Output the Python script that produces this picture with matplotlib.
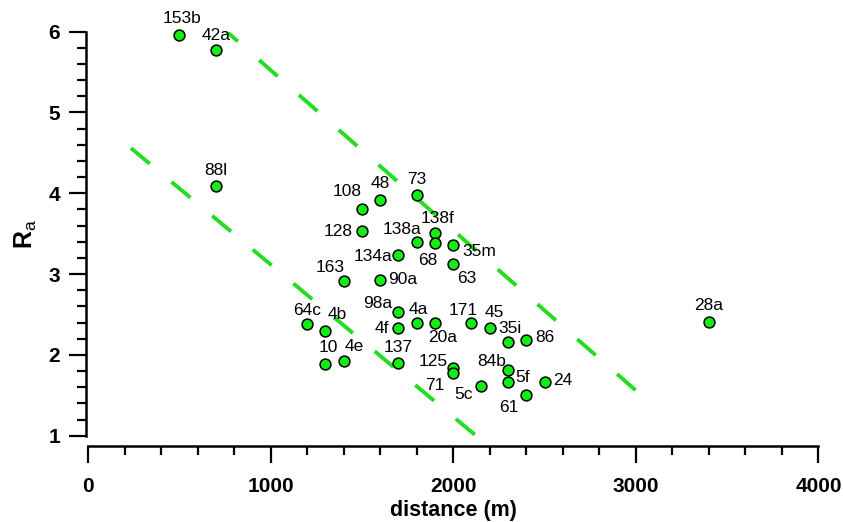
import matplotlib
matplotlib.use("Agg")
import matplotlib.pyplot as plt

plt.rcParams['font.family'] = ['Liberation Sans', 'DejaVu Sans']
plt.rcParams['mathtext.fontset'] = 'custom'
plt.rcParams['mathtext.rm'] = 'Liberation Sans'
plt.rcParams['mathtext.bf'] = 'Liberation Sans:bold'

# sites: name, distance (m), Ra
names = ['153b', '42a', '88l', '108', '48', '73', '128', '138a', '138f', '68',
         '35m', '134a', '63', '163', '90a', '98a', '4a', '20a', '4f', '171',
         '45', '35i', '86', '64c', '4b', '10', '4e', '137', '125', '71',
         '84b', '5f', '24', '5c', '61', '28a']
distance = [500, 700, 700, 1500, 1600, 1800, 1500, 1800, 1900, 1900,
            2000, 1700, 2000, 1400, 1600, 1700, 1800, 1900, 1700, 2100,
            2200, 2300, 2400, 1200, 1300, 1300, 1400, 1700, 2000, 2000,
            2300, 2300, 2500, 2150, 2400, 3400]
ra = [5.96, 5.77, 4.09, 3.81, 3.92, 3.98, 3.53, 3.40, 3.51, 3.38,
      3.36, 3.24, 3.12, 2.91, 2.93, 2.53, 2.39, 2.39, 2.33, 2.39,
      2.33, 2.16, 2.18, 2.38, 2.30, 1.89, 1.93, 1.90, 1.84, 1.78,
      1.81, 1.67, 1.66, 1.61, 1.50, 2.41]

# envelope lines (dashed)
upper_x = [720, 3000]
upper_y = [6.08, 1.56]
lower_x = [235, 2125]
lower_y = [4.56, 1.00]

# label offsets in pixels (dx, dy up)
label_off = {
    '153b': (3, 16), '42a': (0, 15), '88l': (0, 16), '108': (-15, 17),
    '48': (0, 16), '73': (0, 15), '128': (-24, 0), '138a': (-15, 12),
    '138f': (3, 14), '68': (-7, -17), '35m': (26, -6), '134a': (-25, -2),
    '63': (14, -14), '163': (-14, 14), '90a': (23, 0), '98a': (-21, 9),
    '4a': (2, 14), '20a': (8, -14), '4f': (-17, 0), '171': (-8, 13),
    '45': (5, 16), '35i': (2, 13), '86': (19, 3), '64c': (0, 14),
    '4b': (12, 16), '10': (3, 16), '4e': (11, 14), '137': (0, 15),
    '125': (-20, 6), '71': (-18, -13), '84b': (-16, 9), '5f': (15, 4),
    '24': (18, 2), '5c': (-17, -8), '61': (-17, -12), '28a': (0, 16),
}

fig = plt.figure(figsize=(8.43, 5.22), dpi=100)
ax = fig.add_axes([88 / 843, 1 - 435.7 / 522, (818.4 - 88) / 843, (435.7 - 31.7) / 522])

line_green = '#22dd22'
for lx, ly in [(upper_x, upper_y), (lower_x, lower_y)]:
    ax.plot(lx, ly, color=line_green, lw=2.8, dashes=(6.3, 7.3),
            dash_capstyle='butt', zorder=1)

ax.plot(distance, ra, 'o', ms=7.8, mfc='#11ee11', mec='black', mew=1.1,
        zorder=3, clip_on=False)

for n, x, y in zip(names, distance, ra):
    dx, dy = label_off[n]
    ax.annotate(n, (x, y), xytext=(dx * 0.72, dy * 0.72), textcoords='offset points',
                ha='center', va='center', fontsize=12.5, zorder=4)

ax.set_xlim(0, 4000)
ax.set_ylim(1, 6)
ax.set_xticks([0, 1000, 2000, 3000, 4000])
ax.set_xticks(range(0, 4001, 200), minor=True)
ax.set_yticks([1, 2, 3, 4, 5, 6])
ax.set_yticks([1 + 0.2 * i for i in range(26)], minor=True)

for s in ['top', 'right']:
    ax.spines[s].set_visible(False)
ax.spines['bottom'].set_position(('outward', 7.5))
ax.spines['left'].set_position(('outward', 1.5))
ax.spines['bottom'].set_bounds(0, 4000)
ax.spines['left'].set_bounds(1, 6)
for s in ['bottom', 'left']:
    ax.spines[s].set_linewidth(1.8)

ax.tick_params(which='major', length=12.4, width=1.6, direction='out')
ax.tick_params(which='minor', length=6.7, width=1.6, direction='out')
ax.tick_params(axis='x', which='major', pad=9.5)
ax.tick_params(axis='y', which='major', pad=6)
for lab in ax.get_xticklabels() + ax.get_yticklabels():
    lab.set_fontweight('bold')
    lab.set_fontsize(15)

ax.set_xlabel('distance (m)', fontsize=15.5, fontweight='bold', labelpad=3)
ax.set_ylabel(r'$\mathbf{R}_{\mathrm{a}}$', fontsize=18, labelpad=7)

fig.savefig('out.png', dpi=100)
